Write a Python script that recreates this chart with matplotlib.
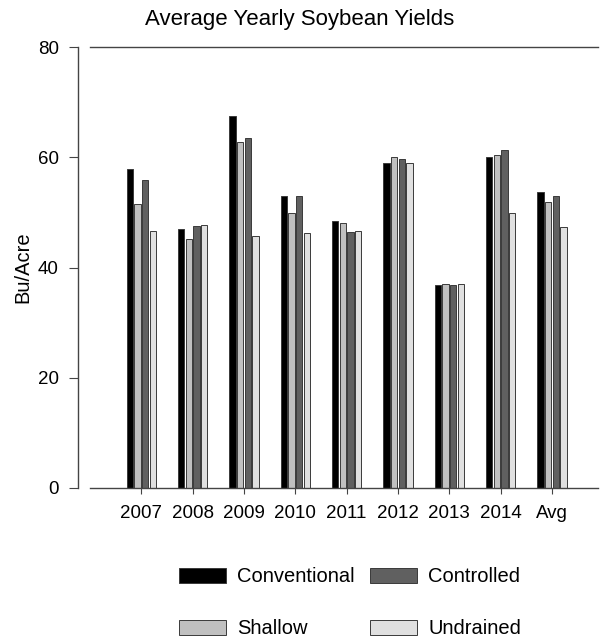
import matplotlib.pyplot as plt
import numpy as np

years = ["2007", "2008", "2009", "2010", "2011", "2012", "2013", "2014", "Avg"]
conventional = [57.9, 46.9, 67.5, 52.9, 48.4, 58.9, 36.8, 60.1, 53.7]
shallow = [51.5, 45.2, 62.7, 49.9, 48.0, 60.1, 37.1, 60.5, 51.8]
controlled = [55.9, 47.6, 63.5, 52.9, 46.4, 59.6, 36.8, 61.3, 53.0]
undrained = [46.7, 47.7, 45.8, 46.3, 46.6, 59.0, 37.1, 49.9, 47.4]

plt.rcParams["font.family"] = ["Liberation Sans", "DejaVu Sans"]

fig = plt.figure(figsize=(6, 6.4), dpi=100)
ax = fig.add_axes([0.15, 0.2375, 0.847, 0.689])

x = np.arange(len(years))
pitch = 0.15
width = 0.12
series = [
    ("Conventional", conventional, "#000000"),
    ("Shallow", shallow, "#c0c0c0"),
    ("Controlled", controlled, "#606060"),
    ("Undrained", undrained, "#e0e0e0"),
]
handles = []
for i, (name, vals, color) in enumerate(series):
    bars = ax.bar(
        x + (i - 1.5) * pitch,
        vals,
        width=width,
        color=color,
        edgecolor="#3a3a3a",
        linewidth=0.7,
        label=name,
    )
    handles.append(bars)

ax.set_xlim(-1.0, 8.9)
ax.set_ylim(0, 80)
ax.set_xticks(x)
ax.set_xticklabels(years)
ax.set_yticks([0, 20, 40, 60, 80])

for side in ["top", "bottom", "left"]:
    ax.spines[side].set_color("#444444")
    ax.spines[side].set_linewidth(1.0)
ax.spines["right"].set_visible(False)
ax.spines["left"].set_position(("outward", 9))

ax.tick_params(axis="x", length=4, width=0.8, color="#444444", pad=8, labelsize=13.5)
ax.tick_params(axis="y", length=6.5, width=0.8, color="#444444", pad=7, labelsize=13.5)

ax.set_ylabel("Bu/Acre", fontsize=14.5, labelpad=4)
fig.text(0.5, 0.97, "Average Yearly Soybean Yields", fontsize=16, ha="center", va="center")

fig.legend(
    handles=handles,
    labels=[s[0] for s in series],
    ncol=2,
    loc="center left",
    bbox_to_anchor=(0.268, 0.058),
    frameon=False,
    fontsize=14.5,
    handlelength=2.34,
    handleheight=0.78,
    handletextpad=0.55,
    columnspacing=0.75,
    labelspacing=1.65,
    borderpad=0.4,
)

fig.savefig("out.png")
